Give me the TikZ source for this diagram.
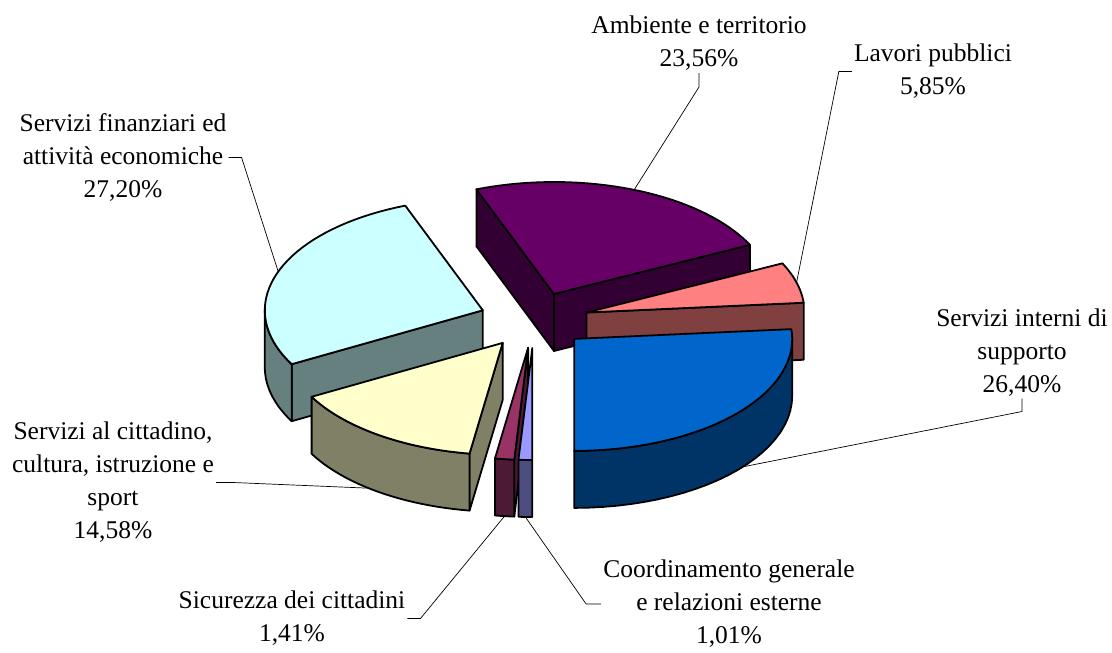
\documentclass[tikz,border=0pt]{standalone}
\usepackage{fontspec}
\setmainfont{Liberation Serif}
\definecolor{purpletop}{HTML}{660066}
\definecolor{purpleside}{HTML}{330033}
\definecolor{cyantop}{HTML}{CCFFFF}
\definecolor{cyanside}{HTML}{668080}
\definecolor{pinktop}{HTML}{FF8080}
\definecolor{pinkside}{HTML}{804040}
\definecolor{bluetop}{HTML}{0066CC}
\definecolor{blueside}{HTML}{003366}
\definecolor{yellowtop}{HTML}{FFFFCC}
\definecolor{yellowside}{HTML}{808066}
\definecolor{sictop}{HTML}{993366}
\definecolor{sicside}{HTML}{4D1A33}
\definecolor{lavtop}{HTML}{9999FF}
\definecolor{lavside}{HTML}{4D4D80}
\tikzset{
  face/.style={draw=black,line width=1.8pt,line join=round},
  lbl/.style={align=center,inner sep=2pt,font=\fontsize{25.5}{33}\selectfont},
  leader/.style={line width=0.7pt}
}
% slice pieces: centre x, centre y, angles, colour
\newcommand{\radwall}[4]{%
  \filldraw[face,fill=#4] (#1,#2) -- ({#1+218*cos(#3)},{#2+112*sin(#3)}) -- ++(0,57) -- (#1,#2+57) -- cycle;}
\newcommand{\rimwall}[5]{%
  \filldraw[face,fill=#5] plot[domain=#3:#4,samples=25] ({#1+218*cos(\x)},{#2+112*sin(\x)})
    -- plot[domain=#4:#3,samples=25] ({#1+218*cos(\x)},{#2+57+112*sin(\x)}) -- cycle;}
\newcommand{\topface}[5]{%
  \filldraw[face,fill=#5] (#1,#2) -- plot[domain=#3:#4,samples=40] ({#1+218*cos(\x)},{#2+112*sin(\x)}) -- cycle;}
\begin{document}
\begin{tikzpicture}[x=1pt,y=-1pt]
\useasboundingbox (0,0) rectangle (1112,653);
% Ambiente e territorio
\radwall{554}{294}{249.16}{purpleside}
\radwall{554}{294}{333.98}{purpleside}
\topface{554}{294}{249.16}{333.98}{purpletop}
% Servizi finanziari
\radwall{482.8}{310.3}{151.24}{cyanside}
\rimwall{482.8}{310.3}{151.24}{180}{cyanside}
\topface{482.8}{310.3}{151.24}{249.16}{cyantop}
% Lavori pubblici
\radwall{586.5}{312.5}{355}{pinkside}
\topface{586.5}{312.5}{333.98}{355}{pinktop}
% Servizi interni
\rimwall{574.2}{338.9}{0}{90}{blueside}
\topface{574.2}{338.9}{-5}{90}{bluetop}
% Servizi al cittadino
\radwall{502.7}{342.9}{98.75}{yellowside}
\rimwall{502.7}{342.9}{98.75}{151.24}{yellowside}
\topface{502.7}{342.9}{98.75}{151.24}{yellowtop}
% Sicurezza
\radwall{528.1}{347.8}{93.64}{sicside}
\rimwall{528.1}{347.8}{93.64}{98.75}{sicside}
\topface{528.1}{347.8}{93.64}{98.75}{sictop}
% Coordinamento
\rimwall{532.3}{348}{90}{93.64}{lavside}
\topface{532.3}{348}{90}{93.64}{lavtop}

% leader ends
\coordinate (ptAmb) at ({554+218*cos(291.57)},{294+112*sin(291.57)});
\coordinate (ptLav) at ({586.5+218*cos(344.49)},{312.5+112*sin(344.49)});
\coordinate (ptFin) at ({482.8+218*cos(200.2)},{310.3+112*sin(200.2)});
\coordinate (ptInt) at ({574.2+218*cos(39.3)},{338.9+57+112*sin(39.3)});
\coordinate (ptCit) at ({502.7+218*cos(128)},{342.9+57+112*sin(128)});
\coordinate (ptSic) at ({528.1+218*cos(96.2)},{347.8+57+112*sin(96.2)});
\coordinate (ptCoo) at ({532.3+218*cos(91.82)},{348+57+112*sin(91.82)});

\node[lbl] (lblAmb) at (699,43.5) {Ambiente e territorio\\23,56\%};
\node[lbl] (lblLav) at (933,71.5) {Lavori pubblici\\5,85\%};
\node[lbl] (lblFin) at (123,157.5) {Servizi finanziari ed\\attività economiche\\27,20\%};
\node[lbl] (lblCit) at (113,482.5) {Servizi al cittadino,\\cultura, istruzione e\\sport\\14,58\%};
\node[lbl] (lblSic) at (292,618.5) {Sicurezza dei cittadini\\1,41\%};
\node[lbl] (lblCoo) at (729,604) {Coordinamento generale\\e relazioni esterne\\1,01\%};
\node[lbl] (lblInt) at (1022,352.5) {Servizi interni di\\supporto\\26,40\%};

\draw[leader] (lblAmb.south) -- ++(0,14) -- (ptAmb);
\draw[leader] (lblLav.west) -- ++(-13,0) -- (ptLav);
\draw[leader] (lblFin.east) -- ++(13,0) -- (ptFin);
\draw[leader] (lblCit.east) -- ++(17,0) -- (ptCit);
\draw[leader] (lblSic.east) -- ++(13,0) -- (ptSic);
\draw[leader] (lblCoo.west) -- ++(-15,0) -- (ptCoo);
\draw[leader] (lblInt.south) -- ++(0,13) -- (ptInt);
\end{tikzpicture}
\end{document}
